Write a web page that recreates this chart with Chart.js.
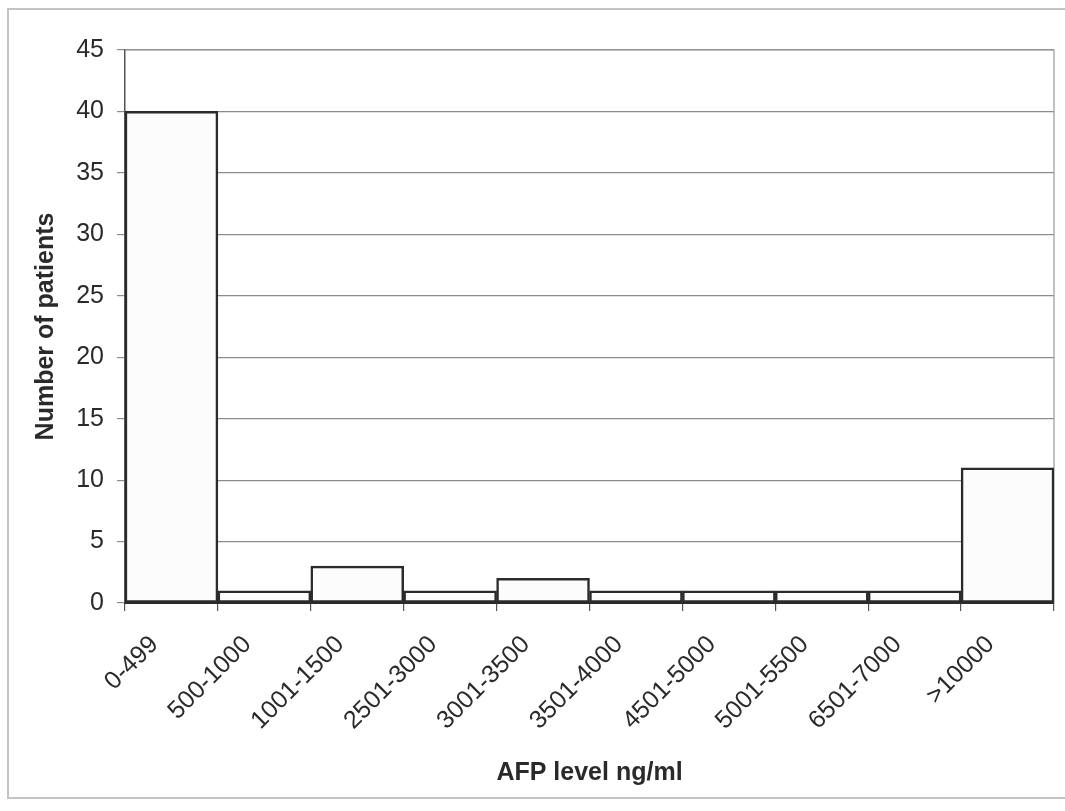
<!DOCTYPE html>
<html>
<head>
<meta charset="utf-8">
<script src="https://cdn.jsdelivr.net/npm/chart.js@4/dist/chart.umd.min.js"></script>
<style>
  html, body { margin: 0; padding: 0; background: #ffffff; }
  #wrap { position: relative; width: 1065px; height: 811px; overflow: hidden; }
  #frame {
    position: absolute; left: 7px; top: 8px; width: 1080px; height: 791px;
    border: 2px solid #c4c4c4; border-right: none; box-sizing: border-box;
  }
  #c { position: absolute; left: 0; top: 0; }
</style>
</head>
<body>
<div id="wrap">
  <div id="frame"></div>
  <canvas id="c" width="1065" height="811"></canvas>
</div>
<script>
// AFP level bands and patient counts per band
const categories = ['0-499', '500-1000', '1001-1500', '2501-3000', '3001-3500',
                    '3501-4000', '4501-5000', '5001-5500', '6501-7000', '>10000'];
const patients = [40, 1, 3, 1, 2, 1, 1, 1, 1, 11];
const yTicks = [0, 5, 10, 15, 20, 25, 30, 35, 40, 45];

const FONT = "'Liberation Sans', Arial, sans-serif";

// thin grey outline round the plot area
const plotFrame = {
  id: 'plotFrame',
  beforeDatasetsDraw(chart) {
    const { ctx, chartArea: a } = chart;
    ctx.save();
    ctx.strokeStyle = '#9a9a9a';
    ctx.lineWidth = 1.2;
    ctx.beginPath();
    ctx.moveTo(a.left, a.top);
    ctx.lineTo(a.right, a.top);
    ctx.lineTo(a.right, a.bottom);
    ctx.stroke();
    ctx.restore();
  }
};

new Chart(document.getElementById('c'), {
  type: 'bar',
  data: {
    labels: categories,
    datasets: [{
      data: patients,
      backgroundColor: '#fcfcfc',
      borderColor: '#2b2b2b',
      borderWidth: 2.5,
      borderSkipped: false,
      categoryPercentage: 1.0,
      barPercentage: 1.0
    }]
  },
  options: {
    responsive: false,
    animation: false,
    layout: { padding: { top: 50, right: 11, left: 0, bottom: 0 } },
    plugins: { legend: { display: false }, tooltip: { enabled: false } },
    scales: {
      x: {
        offset: true,
        grid: {
          offset: true,
          drawOnChartArea: false,
          drawTicks: true,
          tickLength: 8,
          color: '#555555',
          lineWidth: 1.2
        },
        border: { display: true, color: '#2b2b2b', width: 2 },
        ticks: {
          minRotation: 45,
          maxRotation: 45,
          padding: 19,
          labelOffset: -17,
          color: '#2a2a2a',
          font: { family: FONT, size: 25 }
        },
        title: {
          display: true,
          text: 'AFP level ng/ml',
          color: '#2a2a2a',
          font: { family: FONT, size: 25, weight: 'bold' },
          padding: { top: 10, bottom: 23 }
        },
        afterFit(scale) { scale.height = 208; }
      },
      y: {
        min: 0,
        max: 45,
        afterBuildTicks(scale) { scale.ticks = yTicks.map(v => ({ value: v })); },
        grid: {
          color: '#8c8c8c',
          lineWidth: 1.2,
          drawTicks: true,
          tickLength: 8
        },
        border: { display: true, color: '#555555', width: 1.5 },
        ticks: {
          padding: 13,
          color: '#2a2a2a',
          font: { family: FONT, size: 25 }
        },
        title: {
          display: true,
          text: 'Number of patients',
          color: '#2a2a2a',
          font: { family: FONT, size: 25, weight: 'bold' },
          padding: { top: 31, bottom: 0 }
        },
        afterFit(scale) { scale.width = 125; }
      }
    }
  },
  plugins: [plotFrame]
});
</script>
</body>
</html>
